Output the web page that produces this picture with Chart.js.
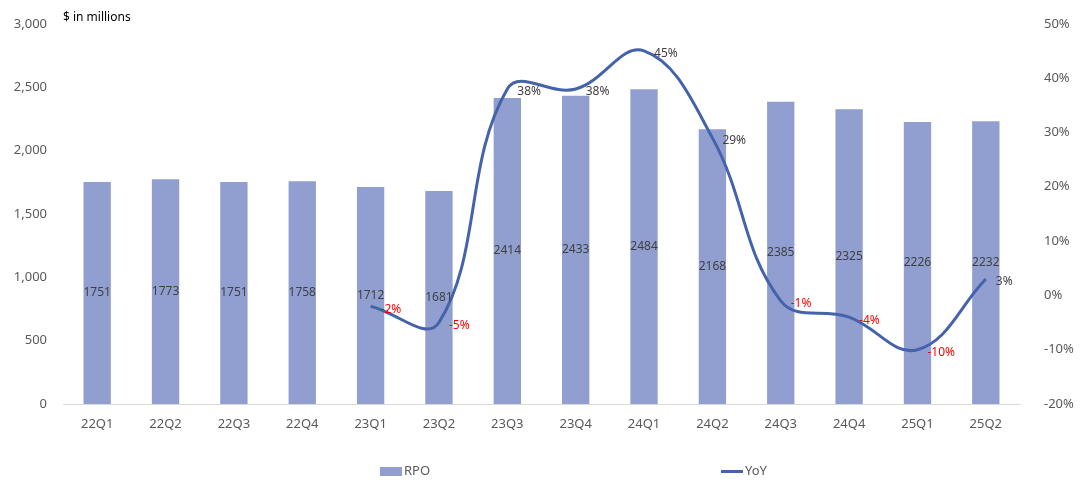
<!DOCTYPE html>
<html>
<head>
<meta charset="utf-8">
<script src="https://cdn.jsdelivr.net/npm/chart.js@4"></script>
<style>
    body { margin: 0; background: #fff; }
    #wrap { position: relative; width: 1080px; height: 493px; }
    .note { position: absolute; left: 63px; top: 8px; font: 12px "Noto Sans", sans-serif; color: #000; }
    .leg { position: absolute; top: 461px; font: 13px "Noto Sans", sans-serif; color: #595959; }
    .leg span { display: inline-block; vertical-align: middle; margin-right: 2px; }
</style>
</head>
<body>
<div id="wrap">
    <canvas id="rpo_chart" width="1080" height="493"></canvas>
    <div class="note">$ in millions</div>
    <div class="leg" style="left:380px"><span style="width:22px;height:9px;background:#909fcf"></span>RPO</div>
    <div class="leg" style="left:721px"><span style="width:22px;height:3px;background:#4463ab"></span>YoY</div>
</div>
<script>
const quarters = ['22Q1', '22Q2', '22Q3', '22Q4', '23Q1', '23Q2', '23Q3', '23Q4', '24Q1', '24Q2', '24Q3', '24Q4', '25Q1', '25Q2'];
const rpo = [1751, 1773, 1751, 1758, 1712, 1681, 2414, 2433, 2484, 2168, 2385, 2325, 2226, 2232];
const yoy = [null, null, null, null, -2, -5, 38, 38, 45, 29, -1, -4, -10, 3];

const barColor = '#909fcf';
const lineColor = '#4463ab';

// draws the value labels (no datalabels plugin here)
const valueLabels = {
    id: 'valueLabels',
    afterDatasetsDraw(chart) {
        const ctx = chart.ctx;
        ctx.save();
        ctx.font = '12px "Noto Sans", sans-serif';
        ctx.textBaseline = 'middle';

        chart.getDatasetMeta(0).data.forEach((bar, i) => {
            ctx.fillStyle = '#404040';
            ctx.textAlign = 'center';
            ctx.fillText(rpo[i], bar.x, (bar.y + bar.base) / 2);
        });

        chart.getDatasetMeta(1).data.forEach((pt, i) => {
            if (yoy[i] === null) return;
            ctx.fillStyle = yoy[i] < 0 ? '#ff0000' : '#404040';
            ctx.textAlign = 'left';
            ctx.fillText(yoy[i] + '%', pt.x + 10, pt.y + 3);
        });
        ctx.restore();
    }
};

function showRpo() {
    const ctx = document.getElementById('rpo_chart');
    new Chart(ctx, {
        data: {
            labels: quarters,
            datasets: [{
                type: 'bar',
                label: 'RPO',
                data: rpo,
                backgroundColor: barColor,
                barPercentage: 0.4,
                categoryPercentage: 1,
                yAxisID: 'y',
                order: 2
            }, {
                type: 'line',
                label: 'YoY',
                data: yoy,
                borderColor: lineColor,
                borderWidth: 3,
                pointRadius: 0,
                tension: 0.4,
                yAxisID: 'y1',
                order: 1
            }]
        },
        options: {
            responsive: false,
            animation: false,
            layout: {
                padding: { top: 4, left: 0, right: 0, bottom: 0 }
            },
            plugins: {
                legend: { display: false },
                tooltip: { enabled: false }
            },
            scales: {
                x: {
                    grid: { display: false, drawTicks: false },
                    border: { color: '#d9d9d9' },
                    ticks: {
                        color: '#595959',
                        padding: 12,
                        font: { family: 'Noto Sans', size: 13 }
                    },
                    afterFit(scale) { scale.height = 89; }
                },
                y: {
                    position: 'left',
                    min: 0,
                    max: 3000,
                    grid: { display: false },
                    border: { display: false },
                    ticks: {
                        stepSize: 500,
                        color: '#595959',
                        padding: 8,
                        font: { family: 'Noto Sans', size: 13 },
                        callback: v => v.toLocaleString('en-US')
                    },
                    afterFit(scale) { scale.width = 63; }
                },
                y1: {
                    position: 'right',
                    min: -20,
                    max: 50,
                    grid: { display: false },
                    border: { display: false },
                    ticks: {
                        stepSize: 10,
                        color: '#595959',
                        padding: 16,
                        font: { family: 'Noto Sans', size: 13 },
                        callback: v => v + '%'
                    },
                    afterFit(scale) { scale.width = 60; }
                }
            }
        },
        plugins: [valueLabels]
    });
}

showRpo();
</script>
</body>
</html>
